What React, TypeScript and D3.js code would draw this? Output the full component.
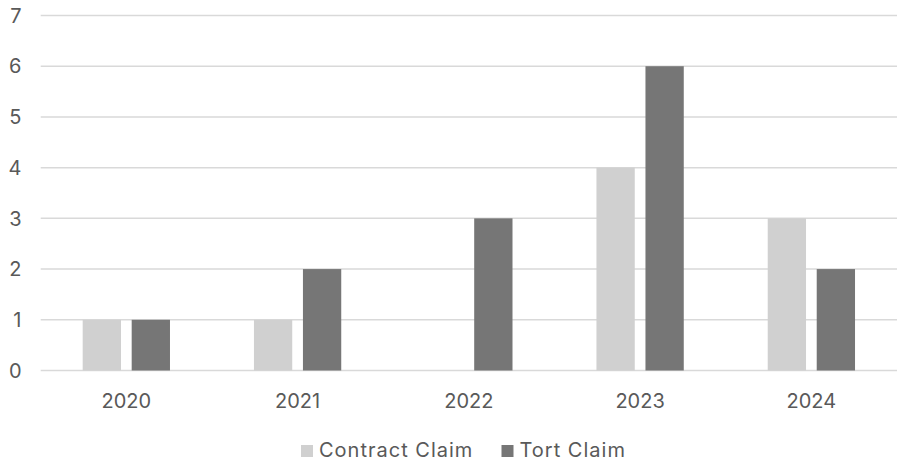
import React from "react";
import * as d3 from "d3";

const years = ["2020", "2021", "2022", "2023", "2024"];
const seriesNames = ["Contract Claim", "Tort Claim"];
const contractClaims = [1, 1, 0, 4, 3];
const tortClaims = [1, 2, 3, 6, 2];
const yTicks = [0, 1, 2, 3, 4, 5, 6, 7];

const colors = ["#d0d0d0", "#767676"];
const textColor = "#595959";
const gridColor = "#d9d9d9";
const font = "Inter, Roboto, sans-serif";

export default function App() {
  const width = 898;
  const height = 464;
  const left = 40.7;
  const right = 897;
  const top = 15.5;
  const bottom = 370.5;

  const x = d3.scaleBand<string>().domain(years).range([left, right]).paddingInner(0).paddingOuter(0);
  const y = d3.scaleLinear().domain([0, 7]).range([bottom, top]);
  const barW = 38.3;
  const gap = 10.7;
  const series = [contractClaims, tortClaims];

  return (
    <svg
      width={width}
      height={height}
      style={{ position: "absolute", left: 0, top: 0, background: "#fff" }}
      fontFamily={font}
    >
      {yTicks.map((t) => (
        <g key={t}>
          <line x1={left} x2={right} y1={y(t)} y2={y(t)} stroke={gridColor} strokeWidth={1.5} />
          <text x={21.5} y={y(t)} dy="0.36em" textAnchor="end" fontSize={20} fill={textColor}>
            {t}
          </text>
        </g>
      ))}
      {years.map((yr, i) => {
        const c = (x(yr) as number) + x.bandwidth() / 2;
        return (
          <g key={yr}>
            {series.map((vals, s) => {
              const bx = s === 0 ? c - gap / 2 - barW : c + gap / 2;
              const v = vals[i];
              if (v === 0) return null;
              return (
                <rect key={s} x={bx} y={y(v)} width={barW} height={y(0) - y(v)} fill={colors[s]} />
              );
            })}
            <text x={c} y={407.7} textAnchor="middle" fontSize={20} fill={textColor}>
              {yr}
            </text>
          </g>
        );
      })}
      {seriesNames.map((name, s) => {
        const lx = s === 0 ? 301 : 501.5;
        return (
          <g key={name}>
            <rect x={lx} y={445} width={12} height={12} fill={colors[s]} />
            <text x={lx + 18} y={457} fontSize={20} letterSpacing={1} fill={textColor}>
              {name}
            </text>
          </g>
        );
      })}
    </svg>
  );
}
